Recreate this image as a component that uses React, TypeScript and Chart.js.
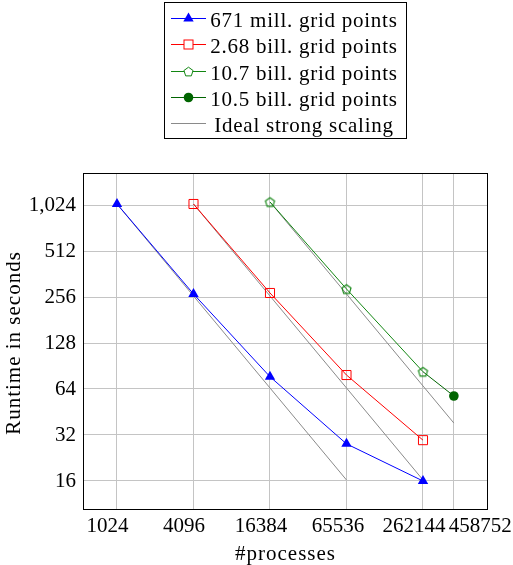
import React, { useEffect, useRef } from "react";
import { Chart, registerables } from "chart.js";

Chart.register(...registerables);

// ---- data ----
const procs671 = [1024, 4096, 16384, 65536, 262144];
const time671 = [1040, 268, 77, 28, 16];
const procs268 = [4096, 16384, 65536, 262144];
const time268 = [1040, 272, 79, 29.6];
const procs107 = [16384, 65536, 262144];
const time107 = [1072, 289, 83];
const procs105 = [262144, 458752];
const time105 = [83, 57.6];
const idealX1 = [1024, 65536];
const idealY1 = [1040, 16.25];
const idealX2 = [4096, 262144];
const idealY2 = [1040, 16.25];
const idealX3 = [16384, 458752];
const idealY3 = [1072, 38.3];

const xTicks = [1024, 4096, 16384, 65536, 262144, 458752];
const yTicks = [16, 32, 64, 128, 256, 512, 1024];

const xTitle = "#processes";
const yTitle = "Runtime in seconds";

const legendLabels = [
  "671 mill. grid points",
  "2.68 bill. grid points",
  "10.7 bill. grid points",
  "10.5 bill. grid points",
  "Ideal strong scaling",
];

// label placement (style only): horizontal shift of each x tick label
const xLabelShift = [-9.5, -9.5, -9, -8.5, -9, 26.5];

const FONT = "'Liberation Serif', 'DejaVu Serif', serif";
const FS = 21;

const BLUE = "#0000ff";
const RED = "#ff0000";
const GREEN = "#128612";
const DGREEN = "#006400";
const GRAY = "#8a8a8a";

function pts(xs: number[], ys: number[]) {
  return xs.map((x, i) => ({ x, y: ys[i] }));
}

function drawPentagon(ctx: CanvasRenderingContext2D, cx: number, cy: number, r: number) {
  ctx.beginPath();
  for (let i = 0; i < 5; i++) {
    const a = -Math.PI / 2 + (i * 2 * Math.PI) / 5;
    const px = cx + r * Math.cos(a);
    const py = cy + r * Math.sin(a);
    if (i === 0) ctx.moveTo(px, py);
    else ctx.lineTo(px, py);
  }
  ctx.closePath();
}

function makePentagonImage(color: string) {
  const c = document.createElement("canvas");
  c.width = 13;
  c.height = 13;
  const ctx = c.getContext("2d")!;
  ctx.strokeStyle = color;
  ctx.lineWidth = 1.1;
  drawPentagon(ctx, 6.5, 7, 4.8);
  ctx.stroke();
  return c;
}

function drawMarker(ctx: CanvasRenderingContext2D, kind: string, x: number, y: number, color: string) {
  ctx.save();
  ctx.strokeStyle = color;
  ctx.fillStyle = color;
  ctx.lineWidth = 1;
  if (kind === "triangle") {
    const r = 6;
    ctx.beginPath();
    ctx.moveTo(x, y - r);
    ctx.lineTo(x + r * Math.sin(Math.PI / 3), y + r / 2);
    ctx.lineTo(x - r * Math.sin(Math.PI / 3), y + r / 2);
    ctx.closePath();
    ctx.fill();
  } else if (kind === "rect") {
    ctx.fillStyle = "#ffffff";
    ctx.fillRect(x - 4.5, y - 4.5, 9, 9);
    ctx.strokeRect(x - 4.5, y - 4.5, 9, 9);
  } else if (kind === "pentagon") {
    ctx.fillStyle = "#ffffff";
    drawPentagon(ctx, x, y + 0.5, 4.8);
    ctx.fill();
    ctx.stroke();
  } else if (kind === "circle") {
    ctx.beginPath();
    ctx.arc(x, y, 4.8, 0, Math.PI * 2);
    ctx.fill();
  }
  ctx.restore();
}

const legendStyles = [
  { color: BLUE, marker: "triangle" },
  { color: RED, marker: "rect" },
  { color: GREEN, marker: "pentagon" },
  { color: DGREEN, marker: "circle" },
  { color: GRAY, marker: "none" },
];

const framePlugin = {
  id: "frameAndLegend",
  afterDraw(chart: any) {
    const ctx: any = chart.ctx;
    const a = chart.chartArea;
    ctx.save();
    // plot frame
    ctx.strokeStyle = "#000";
    ctx.lineWidth = 1;
    ctx.strokeRect(Math.round(a.left) + 0.5, Math.round(a.top) + 0.5, Math.round(a.right - a.left) - 1, Math.round(a.bottom - a.top));

    // x tick labels
    const xs = chart.scales.x;
    ctx.fillStyle = "#000";
    ctx.font = `${FS}px ${FONT}`;
    ctx.textAlign = "center";
    ctx.textBaseline = "alphabetic";
    xTicks.forEach((v, i) => {
      ctx.fillText(String(v), xs.getPixelForValue(v) + xLabelShift[i], 531.5);
    });

    // axis titles
    ctx.letterSpacing = "1px";
    ctx.fillText(xTitle, (a.left + a.right) / 2, 559.5);
    ctx.save();
    ctx.translate(20, 343);
    ctx.rotate(-Math.PI / 2);
    ctx.fillText(yTitle, 0, 0);
    ctx.restore();

    // legend box
    ctx.strokeStyle = "#000";
    ctx.strokeRect(164.5, 2.5, 242, 136);
    const rowY0 = 18.3;
    const step = 26.1;
    ctx.letterSpacing = "0.75px";
    legendLabels.forEach((label, i) => {
      const y = Math.round(rowY0 + i * step) + 0.5;
      const st = legendStyles[i];
      ctx.strokeStyle = st.color;
      ctx.lineWidth = 1;
      ctx.beginPath();
      ctx.moveTo(171, y);
      ctx.lineTo(206, y);
      ctx.stroke();
      if (st.marker !== "none") drawMarker(ctx, st.marker, 188.5, y, st.color);
      ctx.fillStyle = "#000";
      ctx.fillText(label, 304, y + 8.3);
    });
    ctx.restore();
  },
};

export default function App() {
  const ref = useRef<HTMLCanvasElement>(null);

  useEffect(() => {
    if (!ref.current) return;
    const pent = makePentagonImage(GREEN);
    const chart = new Chart(ref.current, {
      type: "scatter",
      data: {
        datasets: [
          {
            label: legendLabels[0],
            data: pts(procs671, time671),
            showLine: true,
            borderColor: BLUE,
            backgroundColor: BLUE,
            borderWidth: 1,
            pointStyle: "triangle",
            pointRadius: 6,
            pointBorderWidth: 0,
          },
          {
            label: legendLabels[1],
            data: pts(procs268, time268),
            showLine: true,
            borderColor: RED,
            backgroundColor: "rgba(0,0,0,0)",
            borderWidth: 1,
            pointStyle: "rect",
            pointRadius: 6.4,
            pointBorderWidth: 1,
            pointBorderColor: RED,
          },
          {
            label: legendLabels[2],
            data: pts(procs107, time107),
            showLine: true,
            borderColor: GREEN,
            backgroundColor: GREEN,
            borderWidth: 1,
            pointStyle: pent as any,
            pointRadius: 5,
          },
          {
            label: legendLabels[3],
            data: pts(procs105, time105),
            showLine: true,
            borderColor: DGREEN,
            backgroundColor: DGREEN,
            borderWidth: 1,
            pointStyle: "circle",
            pointRadius: [0, 4.8],
            pointBorderWidth: 0,
          },
          {
            label: legendLabels[4],
            data: pts(idealX1, idealY1),
            showLine: true,
            borderColor: GRAY,
            borderWidth: 1,
            pointRadius: 0,
          },
          {
            label: legendLabels[4],
            data: pts(idealX2, idealY2),
            showLine: true,
            borderColor: GRAY,
            borderWidth: 1,
            pointRadius: 0,
          },
          {
            label: legendLabels[4],
            data: pts(idealX3, idealY3),
            showLine: true,
            borderColor: GRAY,
            borderWidth: 1,
            pointRadius: 0,
          },
        ],
      },
      options: {
        animation: false,
        responsive: false,
        maintainAspectRatio: false,
        layout: { padding: { top: 173, right: 25, left: 0, bottom: 0 } },
        plugins: {
          legend: { display: false },
          tooltip: { enabled: false },
        },
        scales: {
          x: {
            type: "logarithmic",
            bounds: "data",
            min: 553,
            max: 851500,
            afterBuildTicks: (scale: any) => {
              scale.ticks = xTicks.map((v) => ({ value: v }));
            },
            afterFit: (scale: any) => {
              scale.height = 56;
            },
            border: { display: false },
            grid: { color: "#c4c4c4", lineWidth: 1, drawTicks: false },
            ticks: { display: false, autoSkip: false, maxRotation: 0 },
            title: { display: false },
          },
          y: {
            type: "logarithmic",
            bounds: "data",
            min: 10.49,
            max: 1659,
            afterBuildTicks: (scale: any) => {
              scale.ticks = yTicks.map((v) => ({ value: v }));
            },
            afterFit: (scale: any) => {
              scale.width = 83;
            },
            border: { display: false },
            grid: { color: "#c4c4c4", lineWidth: 1, drawTicks: false },
            ticks: {
              autoSkip: false,
              padding: 7,
              color: "#000",
              font: { family: FONT, size: FS },
              callback: (v: any) => Number(v).toLocaleString("en-US"),
            },
            title: { display: false },
          },
        },
      },
      plugins: [framePlugin],
    });
    return () => chart.destroy();
  }, []);

  return (
    <div style={{ position: "fixed", left: 0, top: 0, width: 513, height: 565, background: "#fff" }}>
      <canvas ref={ref} width={513} height={565} style={{ width: 513, height: 565 }} />
    </div>
  );
}
